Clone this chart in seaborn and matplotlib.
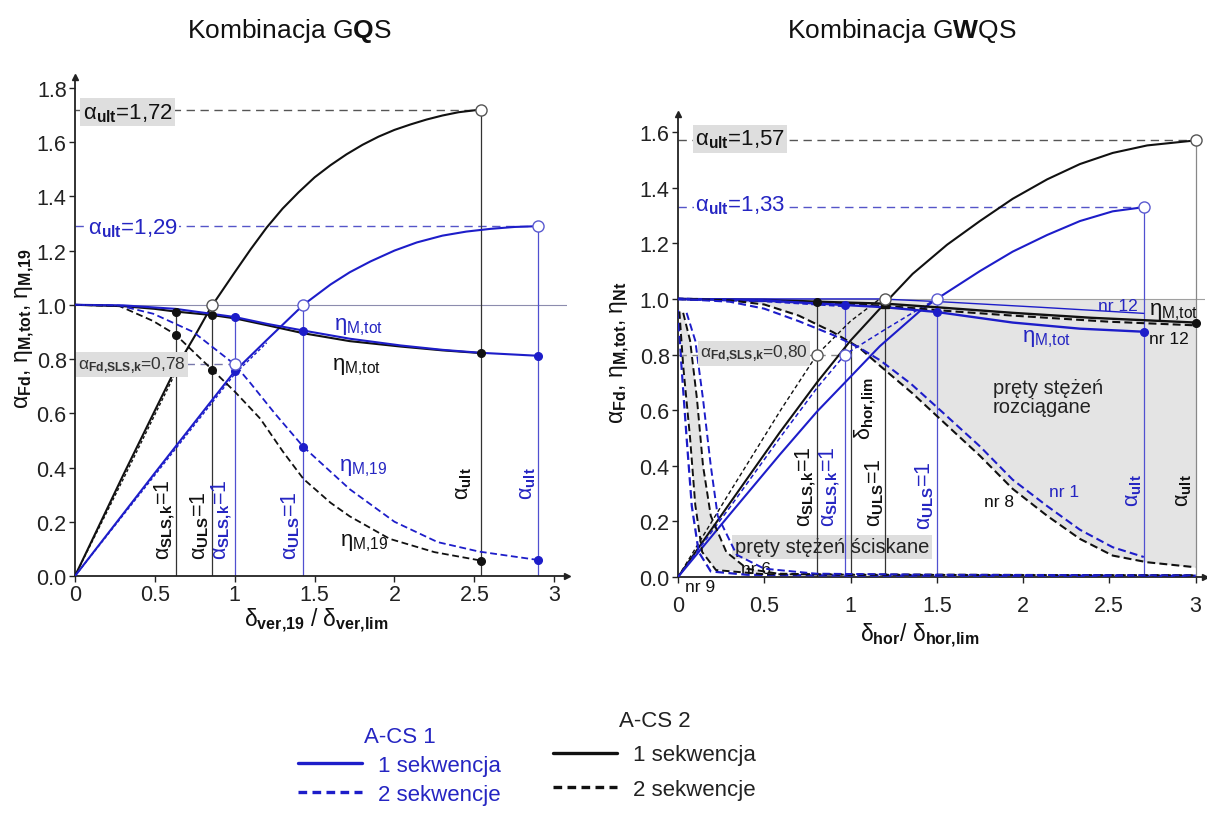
import matplotlib
matplotlib.use("Agg")
import matplotlib.pyplot as plt
from matplotlib.lines import Line2D
import seaborn as sns

# ================= DATA : left panel (Kombinacja GQS) =================
L_alpha_k1_x = [0, 0.3, 0.5, 0.63, 0.75, 0.85, 1.0, 1.1, 1.2, 1.3, 1.4, 1.5, 1.6, 1.7, 1.8, 1.9, 2.0, 2.1, 2.2, 2.3, 2.4, 2.54]
L_alpha_k1_y = [0, 0.37, 0.61, 0.765, 0.885, 0.99, 1.12, 1.205, 1.285, 1.355, 1.415, 1.47, 1.515, 1.555, 1.59, 1.62, 1.645, 1.665, 1.683, 1.698, 1.71, 1.72]
L_alpha_k2_x = [0, 0.3, 0.5, 0.63, 0.72]
L_alpha_k2_y = [0, 0.355, 0.595, 0.75, 0.855]
L_alpha_b1_x = [0, 0.5, 1.0, 1.2, 1.43, 1.6, 1.72, 1.85, 2.0, 2.14, 2.3, 2.45, 2.6, 2.75, 2.9]
L_alpha_b1_y = [0, 0.38, 0.755, 0.87, 1.0, 1.075, 1.12, 1.16, 1.20, 1.23, 1.255, 1.27, 1.28, 1.287, 1.29]
L_alpha_b2_x = [0, 0.5, 1.0, 1.2]
L_alpha_b2_y = [0, 0.372, 0.745, 0.86]

L_eta_k1_x = [0, 0.3, 0.5, 0.63, 0.86, 1.0, 1.2, 1.43, 1.72, 2.04, 2.3, 2.54]
L_eta_k1_y = [1.0, 0.995, 0.985, 0.975, 0.962, 0.95, 0.925, 0.895, 0.866, 0.846, 0.832, 0.822]
L_eta_b1_x = [0, 0.3, 0.63, 1.0, 1.2, 1.43, 1.72, 2.04, 2.3, 2.54, 2.9]
L_eta_b1_y = [1.0, 0.998, 0.985, 0.955, 0.93, 0.905, 0.875, 0.85, 0.834, 0.823, 0.812]
L_eta19_k2_x = [0, 0.28, 0.49, 0.63, 0.86, 1.0, 1.16, 1.3, 1.43, 1.6, 1.72, 1.97, 2.25, 2.54]
L_eta19_k2_y = [1.0, 0.995, 0.94, 0.89, 0.76, 0.68, 0.58, 0.46, 0.358, 0.27, 0.22, 0.137, 0.088, 0.057]
L_eta19_b2_x = [0, 0.28, 0.49, 0.74, 1.0, 1.1, 1.25, 1.43, 1.72, 2.0, 2.27, 2.53, 2.9]
L_eta19_b2_y = [1.0, 0.997, 0.967, 0.90, 0.78, 0.71, 0.60, 0.476, 0.32, 0.2, 0.125, 0.09, 0.059]

L_dot_k_x = [0.63, 0.63, 0.86, 0.86, 2.54, 2.54]
L_dot_k_y = [0.975, 0.89, 0.962, 0.76, 0.822, 0.057]
L_circ_k_x = [0.63, 0.86, 2.54]
L_circ_k_y = [0.78, 1.0, 1.72]
L_dot_b_x = [1.0, 1.0, 1.43, 1.43, 2.9, 2.9]
L_dot_b_y = [0.955, 0.755, 0.905, 0.476, 0.812, 0.059]
L_circ_b_x = [1.0, 1.43, 2.9]
L_circ_b_y = [0.78, 1.0, 1.29]
L_vline_k_x = [0.63, 0.86, 2.54]
L_vline_k_top = [0.975, 1.0, 1.72]
L_vline_b_x = [1.0, 1.43, 2.9]
L_vline_b_top = [0.955, 1.0, 1.29]
L_alpha_ult = [1.72, 1.29]
L_alpha_sls = 0.78

# ================= DATA : right panel (Kombinacja GWQS) =================
R_alpha_k1_x = [0, 0.3, 0.59, 0.806, 1.0, 1.2, 1.36, 1.56, 1.75, 1.94, 2.14, 2.33, 2.52, 2.72, 3.0]
R_alpha_k1_y = [0, 0.265, 0.52, 0.70, 0.85, 0.985, 1.09, 1.195, 1.28, 1.36, 1.43, 1.485, 1.525, 1.552, 1.57]
R_alpha_k2_x = [0, 0.3, 0.6, 0.806, 1.0, 1.17]
R_alpha_k2_y = [0, 0.305, 0.605, 0.80, 0.92, 1.0]
R_alpha_b1_x = [0, 0.3, 0.59, 0.806, 1.0, 1.17, 1.4, 1.5, 1.75, 1.94, 2.14, 2.33, 2.52, 2.7]
R_alpha_b1_y = [0, 0.225, 0.44, 0.595, 0.72, 0.83, 0.955, 1.0, 1.10, 1.17, 1.23, 1.28, 1.315, 1.33]
R_alpha_b2_x = [0, 0.3, 0.59, 0.806, 0.968, 1.2, 1.4, 1.5]
R_alpha_b2_y = [0, 0.25, 0.5, 0.68, 0.80, 0.89, 0.965, 1.0]

R_eta_k1_x = [0, 0.5, 0.806, 1.2, 1.5, 1.94, 2.4, 3.0]
R_eta_k1_y = [1.0, 0.997, 0.99, 0.983, 0.97, 0.95, 0.932, 0.915]
R_eta_k2_x = [0, 0.806, 1.2, 1.6, 1.94, 2.5, 3.0]
R_eta_k2_y = [1.0, 0.988, 0.975, 0.955, 0.94, 0.918, 0.905]
R_eta_b1_x = [0, 0.5, 0.968, 1.2, 1.5, 1.94, 2.33, 2.7]
R_eta_b1_y = [1.0, 0.994, 0.978, 0.97, 0.953, 0.915, 0.893, 0.882]
R_eta_b12_x = [0, 1.17, 1.52, 2.1, 2.7]
R_eta_b12_y = [1.0, 1.0, 0.99, 0.97, 0.948]
R_eta_b2_x = [0, 0.5, 0.968]
R_eta_b2_y = [1.0, 0.993, 0.975]

R_nr8_x = [0, 0.3, 0.5, 0.7, 0.9, 1.05, 1.17, 1.36, 1.52, 1.75, 1.94, 2.14, 2.33, 2.52, 2.72, 3.0]
R_nr8_y = [1.0, 0.995, 0.98, 0.94, 0.88, 0.825, 0.76, 0.66, 0.568, 0.436, 0.317, 0.22, 0.137, 0.077, 0.053, 0.035]
R_nr1_x = [0, 0.3, 0.5, 0.7, 0.9, 1.05, 1.17, 1.35, 1.52, 1.75, 1.94, 2.14, 2.33, 2.52, 2.7]
R_nr1_y = [1.0, 0.99, 0.965, 0.92, 0.87, 0.825, 0.78, 0.695, 0.60, 0.47, 0.35, 0.255, 0.17, 0.107, 0.072]

R_nr9_b_x = [0, 0.02, 0.05, 0.08, 0.12, 0.19, 0.4, 1.0, 3.0]
R_nr9_b_y = [0.96, 0.76, 0.50, 0.255, 0.09, 0.02, 0.008, 0.005, 0.004]
R_nr9_k_x = [0.008, 0.03, 0.07, 0.1, 0.14, 0.22, 0.5, 3.0]
R_nr9_k_y = [0.955, 0.76, 0.50, 0.26, 0.09, 0.025, 0.01, 0.006]
R_nr6_k_x = [0.03, 0.07, 0.11, 0.145, 0.19, 0.28, 0.40, 0.58, 1.0, 3.0]
R_nr6_k_y = [0.95, 0.85, 0.64, 0.40, 0.22, 0.09, 0.03, 0.012, 0.008, 0.006]
R_nr6_b_x = [0.05, 0.1, 0.145, 0.19, 0.23, 0.34, 0.5, 0.8, 1.5, 3.0]
R_nr6_b_y = [0.95, 0.85, 0.64, 0.40, 0.22, 0.08, 0.03, 0.012, 0.008, 0.006]

R_dot_k_x = [0.806, 3.0]
R_dot_k_y = [0.99, 0.915]
R_sq_k_x = [1.2]
R_sq_k_y = [0.983]
R_circ_k_x = [0.806, 1.2, 3.0]
R_circ_k_y = [0.80, 1.0, 1.57]
R_dot_b_x = [0.968, 1.5, 2.7]
R_dot_b_y = [0.978, 0.953, 0.882]
R_circ_b_x = [0.968, 1.5, 2.7]
R_circ_b_y = [0.80, 1.0, 1.33]
R_vline_k_x = [0.806, 1.0, 1.2]
R_vline_k_top = [0.99, 0.85, 1.0]
R_vline_g_x = [3.0]
R_vline_g_top = [1.57]
R_vline_b_x = [0.968, 1.5, 2.7]
R_vline_b_top = [0.978, 1.0, 1.33]
R_alpha_ult = [1.57, 1.33]
R_alpha_sls = 0.80

X_TICKS = [0, 0.5, 1, 1.5, 2, 2.5, 3]
X_TICKLABELS = ['0', '0.5', '1', '1.5', '2', '2.5', '3']
L_YTICKS = [0.0, 0.2, 0.4, 0.6, 0.8, 1.0, 1.2, 1.4, 1.6, 1.8]
R_YTICKS = [0.0, 0.2, 0.4, 0.6, 0.8, 1.0, 1.2, 1.4, 1.6]

# ================= STYLE =================
sns.set_style("ticks")
plt.rcParams['font.family'] = ['Liberation Sans', 'DejaVu Sans']
plt.rcParams['mathtext.fontset'] = 'custom'
plt.rcParams['mathtext.rm'] = 'Liberation Sans'
plt.rcParams['mathtext.it'] = 'Liberation Sans:italic'
plt.rcParams['mathtext.bf'] = 'Liberation Sans:bold'

BLUE = '#1d1dc9'
BLUE_T = '#2525c2'
BLUE_THIN = '#5050d0'
BLACK = '#111111'
GREY_BOX = '#dedede'
FILL = '#e4e4e4'
DASH = (0, (3.8, 2.0))
FINE = (0, (2.2, 1.6))

A = r'\mathrm{\alpha}'
E = r'\mathrm{\eta}'
D = r'\mathrm{\delta}'

fig = plt.figure(figsize=(12.07, 8.2), dpi=100)
axL = fig.add_axes([75 / 1207, 243 / 820, 492 / 1207, 499 / 820])
axR = fig.add_axes([678 / 1207, 242 / 820, 527 / 1207, 463 / 820])


def curve(ax, x, y, color, ls='-', lw=1.5, z=3):
    sns.lineplot(x=x, y=y, ax=ax, color=color, linestyle=ls, linewidth=lw,
                 sort=False, estimator=None, errorbar=None, legend=False, zorder=z)


def marks(ax, x, y, color, kind):
    if kind == 'dot':
        ax.plot(x, y, 'o', ms=5.5, color=color, zorder=6, clip_on=False)
    elif kind == 'sq':
        ax.plot(x, y, 's', ms=6, color=color, zorder=6, clip_on=False)
    else:
        ax.plot(x, y, 'o', ms=8, mfc='white', mec=color, mew=1.0, zorder=6, clip_on=False)


def setup(ax, xmax, ymax, yticks, xpad):
    ax.set_xlim(0, xmax)
    ax.set_ylim(0, ymax)
    sns.despine(ax=ax)
    for s in ('left', 'bottom'):
        ax.spines[s].set_linewidth(1.3)
        ax.spines[s].set_color('#222222')
    ax.set_xticks(X_TICKS)
    ax.set_xticklabels(X_TICKLABELS)
    ax.set_yticks(yticks)
    ax.set_yticklabels([f'{v:.1f}' for v in yticks])
    ax.tick_params(labelsize=15.5, length=4, width=1, pad=2, colors='#222222')
    ax.tick_params(axis='x', pad=xpad)
    ax.set_xlabel('')
    ax.set_ylabel('')
    ax.plot(1, 0, '>', color='#222222', ms=5, transform=ax.get_yaxis_transform(), clip_on=False)
    ax.plot(0, 1, '^', color='#222222', ms=5, transform=ax.get_xaxis_transform(), clip_on=False)


def rot(ax, x, y, s, color, size=15.5):
    ax.text(x, y, s, rotation=90, ha='center', va='bottom', color=color, fontsize=size, zorder=7)


box = dict(facecolor=GREY_BOX, edgecolor='none', boxstyle='square,pad=0.12')
wbox = dict(facecolor='white', edgecolor='none', boxstyle='square,pad=0.05')

# ----------------------------- LEFT PANEL -----------------------------
ax = axL
setup(ax, 3.08, 1.84, L_YTICKS, 2)
ax.axhline(1.0, color='#8c8cae', lw=0.8, zorder=1)
ax.hlines(L_alpha_ult[0], 0, L_vline_k_x[2], colors='#555555', lw=1.0, linestyles=[(0, (6, 4))], zorder=1)
ax.hlines(L_alpha_ult[1], 0, L_vline_b_x[2], colors='#5555c8', lw=1.0, linestyles=[(0, (6, 4))], zorder=1)
ax.hlines(L_alpha_sls, 0, L_circ_b_x[0], colors='#7777aa', lw=1.0, linestyles=[(0, (6, 4))], zorder=1)
ax.vlines(L_vline_k_x, 0, L_vline_k_top, colors='#333333', lw=0.9, zorder=2)
ax.vlines(L_vline_b_x, 0, L_vline_b_top, colors=BLUE_THIN, lw=0.9, zorder=2)

curve(ax, L_alpha_k1_x, L_alpha_k1_y, BLACK)
curve(ax, L_alpha_k2_x, L_alpha_k2_y, BLACK, ls=FINE, lw=1.0)
curve(ax, L_alpha_b1_x, L_alpha_b1_y, BLUE)
curve(ax, L_alpha_b2_x, L_alpha_b2_y, BLUE, ls=FINE, lw=1.0)
curve(ax, L_eta_k1_x, L_eta_k1_y, BLACK)
curve(ax, L_eta_b1_x, L_eta_b1_y, BLUE)
curve(ax, L_eta19_k2_x, L_eta19_k2_y, BLACK, ls=DASH, lw=1.3)
curve(ax, L_eta19_b2_x, L_eta19_b2_y, BLUE, ls=DASH, lw=1.3)

marks(ax, L_dot_k_x, L_dot_k_y, BLACK, 'dot')
marks(ax, L_circ_k_x, L_circ_k_y, '#555555', 'circ')
marks(ax, L_dot_b_x, L_dot_b_y, BLUE, 'dot')
marks(ax, L_circ_b_x, L_circ_b_y, '#5a5ad0', 'circ')

ax.text(0.05, 1.71, rf'${A}_{{\mathbf{{ult}}}}$=1,72', fontsize=16, color=BLACK, va='center', ha='left', bbox=box, zorder=7)
ax.text(0.08, 1.283, rf'${A}_{{\mathbf{{ult}}}}$=1,29', fontsize=16, color=BLUE_T, va='center', ha='left', bbox=wbox, zorder=7)
ax.text(0.02, 0.78, rf'${A}_{{\mathbf{{Fd{{,}}SLS{{,}}k}}}}$=0,78', fontsize=12.5, color='#333333', va='center', ha='left', bbox=box, zorder=7)
ax.text(1.62, 0.92, rf'${E}_{{\mathrm{{M{{,}}tot}}}}$', fontsize=16, color=BLUE_T, va='center', ha='left', zorder=7)
ax.text(1.61, 0.775, rf'${E}_{{\mathrm{{M{{,}}tot}}}}$', fontsize=16, color=BLACK, va='center', ha='left', zorder=7)
ax.text(1.65, 0.40, rf'${E}_{{\mathrm{{M{{,}}19}}}}$', fontsize=16, color=BLUE_T, va='center', ha='left', zorder=7)
ax.text(1.66, 0.125, rf'${E}_{{\mathrm{{M{{,}}19}}}}$', fontsize=16, color=BLACK, va='center', ha='left', zorder=7)
rot(ax, 0.56, 0.063, rf'${A}_{{\mathbf{{SLS{{,}}k}}}}$=1', BLACK)
rot(ax, 0.78, 0.063, rf'${A}_{{\mathbf{{ULS}}}}$=1', BLACK)
rot(ax, 0.92, 0.063, rf'${A}_{{\mathbf{{SLS{{,}}k}}}}$=1', BLUE_T)
rot(ax, 1.35, 0.063, rf'${A}_{{\mathbf{{ULS}}}}$=1', BLUE_T)
rot(ax, 2.43, 0.284, rf'${A}_{{\mathbf{{ult}}}}$', BLACK)
rot(ax, 2.83, 0.284, rf'${A}_{{\mathbf{{ult}}}}$', BLUE_T)

# ----------------------------- RIGHT PANEL -----------------------------
ax = axR
setup(ax, 3.055, 1.665, R_YTICKS, 9)
ax.fill_between(R_nr8_x, R_nr8_y, 1.0, color=FILL, lw=0, zorder=0.5)
ax.fill(R_nr9_k_x[:6] + R_nr6_k_x[:8][::-1], R_nr9_k_y[:6] + R_nr6_k_y[:8][::-1], color=FILL, lw=0, zorder=0.5)
ax.axhline(1.0, color='#a0a0a0', lw=0.8, zorder=1)
ax.hlines(R_alpha_ult[0], 0, R_vline_g_x[0], colors='#555555', lw=1.0, linestyles=[(0, (6, 4))], zorder=1)
ax.hlines(R_alpha_ult[1], 0, R_vline_b_x[2], colors='#5555c8', lw=1.0, linestyles=[(0, (6, 4))], zorder=1)
ax.hlines(R_alpha_sls, 0, R_circ_b_x[0], colors='#888888', lw=1.0, linestyles=[(0, (6, 4))], zorder=1)
ax.vlines(R_vline_k_x, 0, R_vline_k_top, colors='#333333', lw=0.9, zorder=2)
ax.vlines(R_vline_g_x, 0, R_vline_g_top, colors='#888888', lw=0.9, zorder=2)
ax.vlines(R_vline_b_x, 0, R_vline_b_top, colors=BLUE_THIN, lw=0.9, zorder=2)

curve(ax, R_alpha_k1_x, R_alpha_k1_y, BLACK)
curve(ax, R_alpha_k2_x, R_alpha_k2_y, BLACK, ls=(0, (3, 2)), lw=1.0)
curve(ax, R_alpha_b1_x, R_alpha_b1_y, BLUE)
curve(ax, R_alpha_b2_x, R_alpha_b2_y, BLUE, ls=(0, (3, 2)), lw=1.1)
curve(ax, R_eta_k1_x, R_eta_k1_y, BLACK, lw=1.7)
curve(ax, R_eta_k2_x, R_eta_k2_y, BLACK, ls=DASH, lw=1.5)
curve(ax, R_eta_b1_x, R_eta_b1_y, BLUE, lw=1.7)
curve(ax, R_eta_b12_x, R_eta_b12_y, BLUE, lw=1.0)
curve(ax, R_eta_b2_x, R_eta_b2_y, BLUE, ls=(0, (2, 1.2)), lw=2.0)
curve(ax, R_nr8_x, R_nr8_y, BLACK, ls=DASH, lw=1.5)
curve(ax, R_nr1_x, R_nr1_y, BLUE, ls=DASH, lw=1.5)
curve(ax, R_nr9_b_x, R_nr9_b_y, BLUE, ls=DASH, lw=1.6)
curve(ax, R_nr9_k_x, R_nr9_k_y, BLACK, ls=DASH, lw=1.4)
curve(ax, R_nr6_k_x, R_nr6_k_y, BLACK, ls=DASH, lw=1.4)
curve(ax, R_nr6_b_x, R_nr6_b_y, BLUE, ls=DASH, lw=1.4)

marks(ax, R_dot_k_x, R_dot_k_y, BLACK, 'dot')
marks(ax, R_sq_k_x, R_sq_k_y, BLACK, 'sq')
marks(ax, R_circ_k_x, R_circ_k_y, '#555555', 'circ')
marks(ax, R_dot_b_x, R_dot_b_y, BLUE, 'dot')
marks(ax, R_circ_b_x, R_circ_b_y, '#5a5ad0', 'circ')

ax.text(0.1, 1.575, rf'${A}_{{\mathbf{{ult}}}}$=1,57', fontsize=16, color=BLACK, va='center', ha='left', bbox=box, zorder=7)
ax.text(0.1, 1.34, rf'${A}_{{\mathbf{{ult}}}}$=1,33', fontsize=16, color=BLUE_T, va='center', ha='left', bbox=wbox, zorder=7)
ax.text(0.13, 0.805, rf'${A}_{{\mathbf{{Fd{{,}}SLS{{,}}k}}}}$=0,80', fontsize=12.5, color='#333333', va='center', ha='left', bbox=box, zorder=7)
ax.text(1.826, 0.647, 'pręty stężeń\nrozciągane', fontsize=14.5, color='#222222', va='center', ha='left', linespacing=1.0, zorder=7)
ax.text(0.893, 0.108, 'pręty stężeń ściskane', fontsize=14.5, color='#222222', va='center', ha='center',
        bbox=dict(facecolor=GREY_BOX, edgecolor='none', boxstyle='square,pad=0.12'), zorder=1.5)
ax.text(1.861, 0.27, 'nr 8', fontsize=12.5, color=BLACK, va='center', ha='center', zorder=7)
ax.text(2.238, 0.306, 'nr 1', fontsize=12.5, color=BLUE_T, va='center', ha='center', zorder=7)
ax.text(0.452, 0.029, 'nr 6', fontsize=12.5, color=BLACK, va='center', ha='center', zorder=2.5)
ax.text(0.128, -0.035, 'nr 9', fontsize=12.5, color=BLACK, va='center', ha='center', zorder=7)
ax.text(2.551, 0.975, 'nr 12', fontsize=12.5, color=BLUE_T, va='center', ha='center', zorder=7)
ax.text(2.846, 0.856, 'nr 12', fontsize=12.5, color=BLACK, va='center', ha='center', zorder=7)
ax.text(2.87, 0.957, rf'${E}_{{\mathrm{{M{{,}}tot}}}}$', fontsize=16, color=BLACK, va='center', ha='center', zorder=7)
ax.text(2.139, 0.86, rf'${E}_{{\mathrm{{M{{,}}tot}}}}$', fontsize=16, color=BLUE_T, va='center', ha='center', zorder=7)
rot(ax, 0.742, 0.183, rf'${A}_{{\mathbf{{SLS{{,}}k}}}}$=1', BLACK)
rot(ax, 0.881, 0.183, rf'${A}_{{\mathbf{{SLS{{,}}k}}}}$=1', BLUE_T)
rot(ax, 1.084, 0.496, rf'${D}_{{\mathbf{{hor{{,}}lim}}}}$', BLACK)
rot(ax, 1.142, 0.183, rf'${A}_{{\mathbf{{ULS}}}}$=1', BLACK)
rot(ax, 1.432, 0.173, rf'${A}_{{\mathbf{{ULS}}}}$=1', BLUE_T)
rot(ax, 2.638, 0.255, rf'${A}_{{\mathbf{{ult}}}}$', BLUE_T)
rot(ax, 2.928, 0.255, rf'${A}_{{\mathbf{{ult}}}}$', BLACK)

# ----------------------------- TITLES / AXIS LABELS -----------------------------
fig.text(289 / 1207, 1 - 31 / 820, r'Kombinacja G$\mathbf{Q}$S', fontsize=19, ha='center', va='center', color='#111111')
fig.text(902 / 1207, 1 - 31 / 820, r'Kombinacja G$\mathbf{W}$QS', fontsize=19, ha='center', va='center', color='#111111')
fig.text(25 / 1207, 1 - 329 / 820, rf'${A}_{{\mathbf{{Fd}}}}$, ${E}_{{\mathbf{{M{{,}}tot}}}}$, ${E}_{{\mathbf{{M{{,}}19}}}}$',
         fontsize=16.5, rotation=90, ha='center', va='center', color='#111111')
fig.text(620 / 1207, 1 - 353 / 820, rf'${A}_{{\mathbf{{Fd}}}}$, ${E}_{{\mathbf{{M{{,}}tot}}}}$, ${E}_{{\mathbf{{Nt}}}}$',
         fontsize=16.5, rotation=90, ha='center', va='center', color='#111111')
fig.text(316 / 1207, 1 - 621 / 820, rf'${D}_{{\mathbf{{ver{{,}}19}}}}$ / ${D}_{{\mathbf{{ver{{,}}lim}}}}$',
         fontsize=16.5, ha='center', va='center', color='#111111')
fig.text(920 / 1207, 1 - 636 / 820, rf'${D}_{{\mathbf{{hor}}}}$/ ${D}_{{\mathbf{{hor{{,}}lim}}}}$',
         fontsize=16.5, ha='center', va='center', color='#111111')

# ----------------------------- LEGENDS -----------------------------
h1 = [Line2D([], [], color=BLUE, lw=2.4), Line2D([], [], color=BLUE, lw=2.4, linestyle=(0, (2.6, 1.6)))]
h2 = [Line2D([], [], color=BLACK, lw=2.4), Line2D([], [], color=BLACK, lw=2.4, linestyle=(0, (2.6, 1.6)))]
leg1 = fig.legend(h1, ['1 sekwencja', '2 sekwencje'], title='A-CS 1', loc='upper left',
                  bbox_to_anchor=(298 / 1207, 1 - 727 / 820), frameon=False, fontsize=16, title_fontsize=16,
                  handlelength=2.9, handletextpad=0.7, labelspacing=0.35, borderpad=0, borderaxespad=0,
                  labelcolor=BLUE_T)
leg1.get_title().set_color(BLUE_T)
leg2 = fig.legend(h2, ['1 sekwencja', '2 sekwencje'], title='A-CS 2', loc='upper left',
                  bbox_to_anchor=(553 / 1207, 1 - 711 / 820), frameon=False, fontsize=16, title_fontsize=16,
                  handlelength=2.9, handletextpad=0.7, labelspacing=0.6, borderpad=0, borderaxespad=0,
                  labelcolor='#222222')
leg2.get_title().set_color('#222222')

fig.savefig('out.png', dpi=100)
